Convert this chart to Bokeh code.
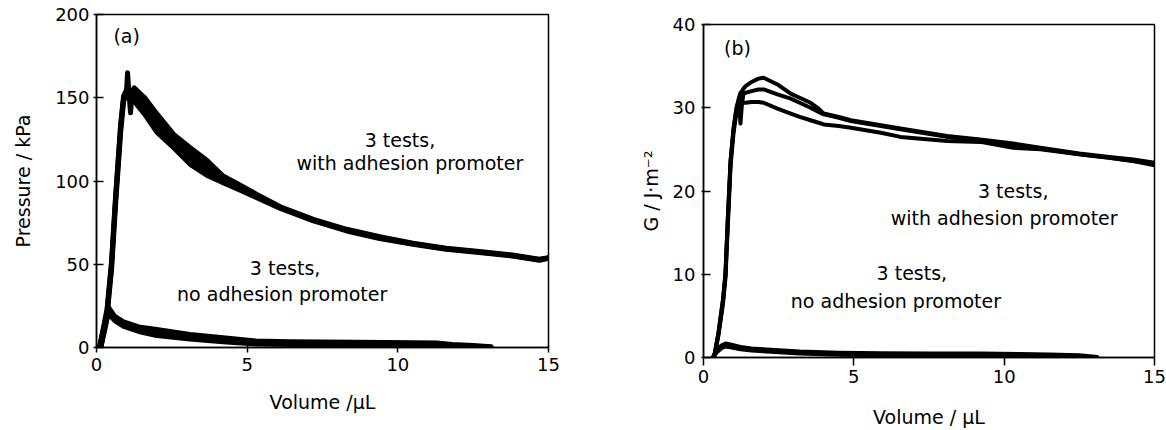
from bokeh.plotting import figure
from bokeh.layouts import row, column
from bokeh.models import Range1d, FixedTicker
from bokeh.embed import file_html
from bokeh.resources import INLINE
from bokeh.core.properties import value

# ---------------- data: panel (a) pressure / kPa vs volume / uL ----------------
a_vol_with = [0.1, 0.35, 0.5, 0.63, 0.8, 0.9, 1.0, 1.03, 1.08, 1.13, 1.18, 1.25, 1.6, 2.02, 2.56,
              3.11, 3.66, 4.2, 4.77, 5.32, 6.1, 7.2, 8.3, 9.4, 10.5, 11.6, 12.7, 13.8, 14.7, 15.0]
a_with_t1 = [0, 23, 52, 90, 134, 151, 155, 165, 152, 141, 153, 156, 150, 140, 128,
             120, 112.5, 103, 97.5, 92, 84.5, 77, 71, 66.5, 62.6, 59.6, 57.7, 55.5, 53, 54]
a_with_t2 = [0, 21, 50, 88, 132, 150, 154, 156, 154, 153, 153, 152, 145, 134.5, 124,
             115, 108, 101, 96, 91, 84, 76.5, 70.5, 66, 62.3, 59.3, 57.4, 55.3, 52.7, 53.8]
a_with_t3 = [0, 19, 47, 85, 129, 148, 152, 153, 152, 151, 150, 148, 140, 129, 120,
             110, 103.5, 99, 94.5, 90, 83.5, 76, 70, 65.5, 62, 59, 57.1, 55, 52.4, 53.5]

a_vol_no = [0.15, 0.3, 0.38, 0.45, 0.6, 0.9, 1.4, 2.0, 3.1, 4.2, 5.3, 6.4, 7.5, 8.6, 9.6,
            10.5, 11.3, 11.8, 12.5, 13.1]
a_no_t1 = [0, 16, 25, 23, 19, 15.5, 12.5, 11, 8, 6, 4, 3.6, 3.5, 3.3, 3.2, 3, 2.8, 2, 1.3, 0.6]
a_no_t2 = [0, 14, 22, 21, 17.5, 14, 11, 9, 6.5, 4.5, 3, 2.6, 2.5, 2.4, 2.5, 2.4, 2.2, 1.5, 0.9, 0.3]
a_no_t3 = [0, 12, 19, 19, 16, 12.5, 9.5, 7, 5, 3.3, 2, 1.6, 1.5, 1.4, 1.6, 1.5, 1.4, 0.8, 0.4, 0]

a_xticks = [0, 5, 10, 15]
a_yticks = [0, 50, 100, 150, 200]

# ---------------- data: panel (b) G / J m^-2 vs volume / uL ----------------
b_vol_with = [0.35, 0.5, 0.65, 0.73, 0.8, 0.9, 1.0, 1.1, 1.18, 1.23, 1.28, 1.33, 1.4, 1.6, 1.83,
              2.0, 2.46, 2.9, 3.2, 3.56, 3.83, 4.0, 4.5, 4.9, 5.9, 6.55, 8.1, 9.2, 10.3, 11.2,
              12.5, 13.5, 14.3, 15.0]
b_with_t1 = [0, 3, 7, 10, 16, 23.6, 27.5, 30, 31.2, 31.8, 32.0, 32.3, 32.6, 33.1, 33.5,
             33.6, 32.8, 31.7, 31.2, 30.6, 29.9, 29.3, 28.9, 28.5, 27.9, 27.5, 26.6, 26.2, 25.7, 25.2,
             24.5, 24.1, 23.8, 23.4]
b_with_t2 = [0, 3, 7, 10, 16, 23.6, 27.5, 30, 31, 28.1, 30.5, 31.7, 31.8, 32.0, 32.2,
             32.2, 31.6, 31.1, 30.6, 30.0, 29.5, 29.2, 28.8, 28.4, 27.8, 27.4, 26.5, 26.1, 25.6, 25.1,
             24.4, 24.0, 23.6, 23.2]
b_with_t3 = [0, 2.7, 6.5, 9.5, 15, 23, 27, 29.5, 30.2, 30.4, 30.5, 30.6, 30.6, 30.7, 30.7,
             30.6, 29.9, 29.3, 28.9, 28.5, 28.2, 28.0, 27.8, 27.6, 27.0, 26.5, 26.0, 25.9, 25.2, 25.0,
             24.4, 24.0, 23.6, 23.1]

b_vol_no = [0.3, 0.45, 0.6, 0.73, 0.9, 1.23, 1.6, 2.1, 3.2, 4.5, 5.9, 7.5, 9.2, 10.5, 11.5, 12.5, 13.1]
b_no_t1 = [0, 1.0, 1.5, 1.7, 1.6, 1.3, 1.1, 1.0, 0.75, 0.6, 0.55, 0.5, 0.5, 0.45, 0.4, 0.3, 0.1]
b_no_t2 = [0, 0.8, 1.3, 1.5, 1.4, 1.1, 0.95, 0.85, 0.6, 0.45, 0.4, 0.35, 0.35, 0.3, 0.25, 0.15, 0.0]
b_no_t3 = [0, 0.6, 1.1, 1.3, 1.2, 0.95, 0.8, 0.7, 0.45, 0.3, 0.25, 0.2, 0.2, 0.15, 0.1, 0.0, 0.0]

b_xticks = [0, 5, 10, 15]
b_yticks = [0, 10, 20, 30, 40]

FONT = "DejaVu Sans"


def style(p, xticks, yticks, xlabel, ylabel, x_in, x_out, y_in, y_out):
    p.xgrid.visible = False
    p.ygrid.visible = False
    p.outline_line_color = "black"
    p.outline_line_width = 1.5
    p.background_fill_color = "white"
    p.border_fill_color = "white"
    for ax in (p.xaxis[0], p.yaxis[0]):
        ax.axis_line_color = "black"
        ax.axis_line_width = 1.5
        ax.major_tick_line_color = "black"
        ax.major_tick_line_width = 1.5
        ax.minor_tick_line_color = None
        ax.major_label_text_font = FONT
        ax.major_label_text_font_size = "18px"
        ax.major_label_text_color = "black"
        ax.axis_label_text_font = FONT
        ax.axis_label_text_font_size = "19px"
        ax.axis_label_text_font_style = "normal"
        ax.axis_label_text_color = "black"
    p.xaxis.ticker = FixedTicker(ticks=xticks)
    p.yaxis.ticker = FixedTicker(ticks=yticks)
    p.xaxis.axis_label = xlabel
    p.yaxis.axis_label = ylabel
    p.xaxis.major_tick_in = x_in
    p.xaxis.major_tick_out = x_out
    p.yaxis.major_tick_in = y_in
    p.yaxis.major_tick_out = y_out


def annot(p, xs, ys, texts):
    p.text(x=xs, y=ys, text=texts, text_font=value(FONT), text_font_size="19px",
           text_align="center", text_baseline="middle", text_color="black")


# ---------------- panel (a) ----------------
p1 = figure(width=600, height=430, output_backend="svg", toolbar_location=None,
            x_range=Range1d(0, 15), y_range=Range1d(0, 200),
            min_border_left=96, min_border_right=52, min_border_top=14, min_border_bottom=83)
style(p1, a_xticks, a_yticks, "Volume /μL", "Pressure / kPa", 2, 5, 7, 3)
p1.xaxis.major_label_standoff = 5
p1.yaxis.major_label_standoff = 4
p1.xaxis.axis_label_standoff = 17
p1.yaxis.axis_label_standoff = 18

k = 10  # band fill starts after the initial spike
p1.varea(x=a_vol_with[k:], y1=a_with_t3[k:], y2=a_with_t1[k:], fill_color="black")
for ys in (a_with_t1, a_with_t2, a_with_t3):
    p1.line(a_vol_with, ys, line_color="black", line_width=5, line_join="round", line_cap="round")
p1.varea(x=a_vol_no, y1=a_no_t3, y2=a_no_t1, fill_color="black")
for ys in (a_no_t1, a_no_t2, a_no_t3):
    p1.line(a_vol_no, ys, line_color="black", line_width=4.5, line_join="round", line_cap="round")

annot(p1, [1.0], [187], ["(a)"])
annot(p1, [10.07, 10.4], [124.7, 111], ["3 tests,", "with adhesion promoter"])
annot(p1, [6.26, 6.16], [48, 32], ["3 tests,", "no adhesion promoter"])

# ---------------- panel (b) ----------------
p2 = figure(width=566, height=430, output_backend="svg", toolbar_location=None,
            x_range=Range1d(0, 15), y_range=Range1d(0, 40),
            min_border_left=103, min_border_right=12, min_border_top=24, min_border_bottom=73)
style(p2, b_xticks, b_yticks, "Volume / μL", "G / J·m⁻²", 0, 8, 7, 2)
p2.xaxis.major_label_standoff = 4
p2.yaxis.major_label_standoff = 6
p2.xaxis.axis_label_standoff = 20
p2.yaxis.axis_label_standoff = 8

for ys in (b_with_t1, b_with_t2, b_with_t3):
    p2.line(b_vol_with, ys, line_color="black", line_width=4, line_join="round", line_cap="round")
for ys in (b_no_t1, b_no_t2, b_no_t3):
    p2.line(b_vol_no, ys, line_color="black", line_width=3.5, line_join="round", line_cap="round")

annot(p2, [1.13], [37.2], ["(b)"])
annot(p2, [10.3, 10.0], [20.0, 16.7], ["3 tests,", "with adhesion promoter"])
annot(p2, [6.93, 6.4], [10.1, 6.8], ["3 tests,", "no adhesion promoter"])

layout = row(column(p1), column(p2), spacing=0)
open("out.html", "w").write(file_html(layout, INLINE))
